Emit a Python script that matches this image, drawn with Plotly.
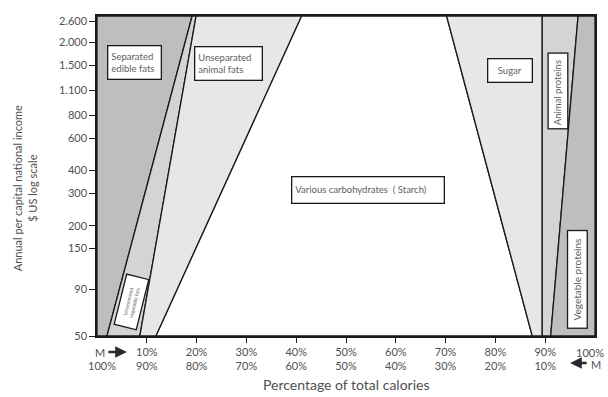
import math
import plotly.graph_objects as go

# Food-energy composition vs national income (log scale)
region_names = [
    "Separated edible fats",
    "Unseparated vegetable fats",
    "Unseparated animal fats",
    "Various carbohydrates (Starch)",
    "Sugar",
    "Animal proteins",
    "Vegetable proteins",
]
region_fills = ["#bebebe", "#d4d4d4", "#e7e7e7", "#ffffff", "#e7e7e7", "#d4d4d4", "#bebebe"]

# Cumulative % of calories at the boundaries between bands,
# at the lowest income (50 $) and the highest income (top of chart)
boundary_low_income = [2.0, 8.6, 11.85, 87.4, 89.4, 91.1]
boundary_high_income = [19.1, 19.9, 41.1, 70.2, 89.4, 96.6]
income_low = 50
income_high = 2790

y_tick_vals = [50, 90, 150, 200, 300, 400, 600, 800, 1100, 1500, 2000, 2600]
y_tick_text = ["50", "90", "150", "200", "300", "400", "600", "800",
               "1.100", "1.500", "2.000", "2.600"]
x_tick_vals = [10, 20, 30, 40, 50, 60, 70, 80, 90]
x_tick_text = [f"{v}%<br>{100 - v}%" for v in x_tick_vals]

FONT = "Lato"
TXT = "#505050"

fig = go.Figure()

lows = [0.0] + boundary_low_income + [100.0]
highs = [0.0] + boundary_high_income + [100.0]
for i, name in enumerate(region_names):
    xs = [lows[i], lows[i + 1], highs[i + 1], highs[i], lows[i]]
    ys = [income_low, income_low, income_high, income_high, income_low]
    fig.add_trace(go.Scatter(
        x=xs, y=ys, mode="lines", fill="toself",
        fillcolor=region_fills[i],
        line=dict(color="#1a1a1a", width=1.3),
        name=name, showlegend=False, hoverinfo="name",
    ))

W, H = 608, 397
L, R, T, B = 97, 11, 16, 61
pw, ph = W - L - R, H - T - B
PAD = 3


def px(x):
    return (x - L) / pw


def py(y):
    return (H - B - y) / ph


def box(text, x, y, w, h, xanchor="left", align="left", angle=0, size=9.5):
    fig.add_annotation(
        text=text, xref="paper", yref="paper", x=x, y=y,
        xanchor=xanchor, yanchor="middle", showarrow=False,
        width=w - 2 * PAD, height=h - 2 * PAD, align=align, valign="middle",
        textangle=angle,
        font=dict(family=FONT, size=size, color="#606060"),
        bgcolor="white", bordercolor="#1a1a1a", borderwidth=1.3, borderpad=PAD,
    )


box("Separated<br>edible fats", px(107.5), py(62), 52, 32)
box("Unseparated<br>animal fats", px(194.5), py(63.7), 66, 32)
box("Various carbohydrates  ( Starch)", px(291.5), py(189.5), 151, 25)
box("Sugar", px(489), py(70.3), 43, 22, align="center")
box("Animal proteins", px(559.8), py(90.5), 74, 18, xanchor="center",
    align="left", angle=-90, size=9.5)
box("Vegetable proteins", px(578.8), py(279), 96, 18, xanchor="center",
    align="center", angle=-90, size=10)
box("Unseparated<br>vegetable fats", px(131.6), py(302), 50, 21,
    xanchor="center", align="center", angle=-76, size=5)

# Axis titles
fig.add_annotation(
    text="Annual per capital national income<br>$ US log scale",
    xref="paper", yref="paper", x=px(24), y=py(188), showarrow=False,
    textangle=-90, xanchor="center", yanchor="middle",
    font=dict(family=FONT, size=11, color=TXT),
)
fig.add_annotation(
    text="Percentage of total calories", xref="paper", yref="paper",
    x=px(347), y=py(384), showarrow=False, xanchor="center", yanchor="middle",
    font=dict(family=FONT, size=14, color=TXT),
)

# End labels of the percentage axis, with direction arrows
tick_font = dict(family=FONT, size=11, color=TXT)
for text, xx, yy in [("M", 100.5, 352), ("100%", 102.5, 365),
                     ("100%", 591.5, 352), ("M", 598, 364)]:
    fig.add_annotation(text=text, xref="paper", yref="paper", x=px(xx), y=py(yy),
                       showarrow=False, xanchor="center", yanchor="middle",
                       font=tick_font)
for head, dx, yy in [(127, -20, 352), (572, 18, 363)]:
    fig.add_annotation(text="", xref="paper", yref="paper", x=px(head), y=py(yy),
                       ax=dx, ay=0, showarrow=True, arrowhead=2, arrowsize=0.9,
                       arrowwidth=2.6, arrowcolor="#2a2a2a")

fig.update_xaxes(
    range=[0, 100], tickvals=x_tick_vals, ticktext=x_tick_text,
    ticks="outside", ticklen=5, tickcolor="#1a1a1a", tickwidth=1.2,
    showline=True, mirror=True, linecolor="#1a1a1a", linewidth=1.5,
    showgrid=False, zeroline=False, tickfont=tick_font,
)
fig.update_yaxes(
    type="log", range=[math.log10(income_low), math.log10(income_high)],
    tickvals=y_tick_vals, ticktext=y_tick_text,
    ticks="outside", ticklen=6, tickcolor="#1a1a1a", tickwidth=1.2,
    showline=True, mirror=True, linecolor="#1a1a1a", linewidth=1.5,
    showgrid=False, zeroline=False, tickfont=tick_font,
)
fig.update_layout(
    width=W, height=H, margin=dict(l=L, r=R, t=T, b=B),
    paper_bgcolor="white", plot_bgcolor="white", showlegend=False,
)
fig.write_html("out.html")
